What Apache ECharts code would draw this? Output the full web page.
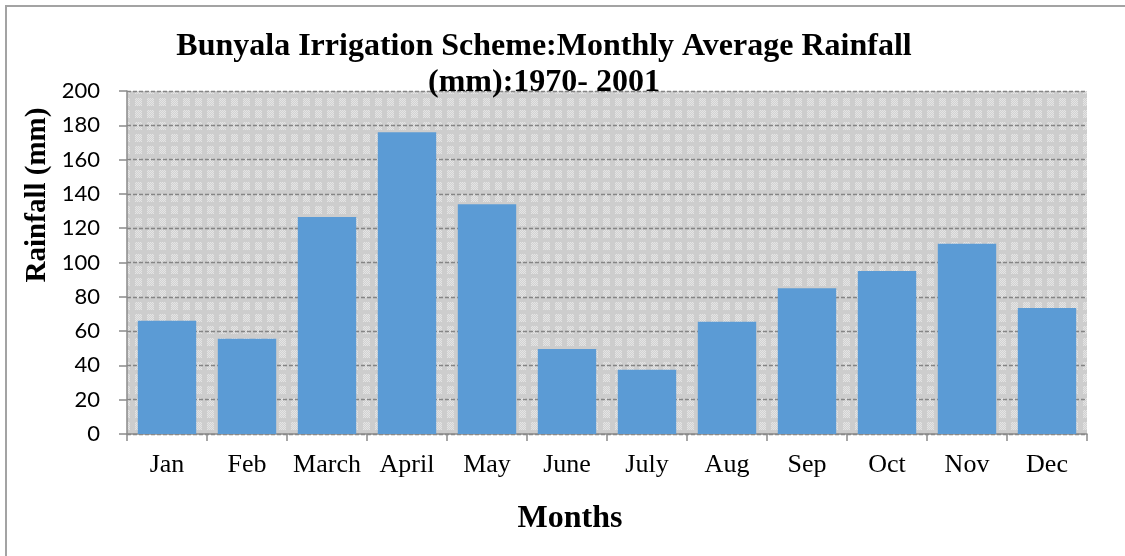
<!DOCTYPE html>
<html>
<head>
<meta charset="utf-8">
<script src="https://cdn.jsdelivr.net/npm/echarts@6/dist/echarts.min.js"></script>
<style>
html,body{margin:0;padding:0;background:#fff;}
#chart{width:1125px;height:556px;}
</style>
</head>
<body>
<div id="chart"></div>
<script>
var months = ['Jan','Feb','March','April','May','June','July','Aug','Sep','Oct','Nov','Dec'];
var rainfall = [66, 55.5, 126.5, 176, 134, 49.5, 37.5, 65.5, 85, 95, 111, 73.5];
var yTicks = {min: 0, max: 200, interval: 20};
var titleText = 'Bunyala Irrigation Scheme:Monthly Average Rainfall\n(mm):1970- 2001';
var yTitle = 'Rainfall (mm)';
var xTitle = 'Months';

function makePattern() {
  var c = document.createElement('canvas');
  c.width = 12; c.height = 12;
  var ctx = c.getContext('2d');
  ctx.fillStyle = '#cdcdcd';
  ctx.fillRect(0, 0, 12, 12);
  for (var y = 2; y < 10; y++) {
    for (var x = 3; x < 10; x++) {
      ctx.fillStyle = ((x + y) % 2 === 0) ? '#e4e4e4' : '#d2d2d2';
      ctx.fillRect(x, y, 1, 1);
    }
  }
  return c;
}

var chart = echarts.init(document.getElementById('chart'), null, {renderer: 'canvas'});
var option = {
  backgroundColor: '#ffffff',
  animation: false,
  title: {
    text: titleText,
    left: 539,
    top: 24,
    textAlign: 'center',
    textStyle: {
      fontFamily: 'Liberation Serif',
      fontWeight: 'bold',
      fontSize: 32,
      lineHeight: 36,
      color: '#000'
    }
  },
  graphic: [
    {
      type: 'rect', z: -10, silent: true,
      shape: {x: 6, y: 6, width: 1200, height: 700},
      style: {fill: 'none', stroke: '#a3a3a3', lineWidth: 2}
    },
    {
      type: 'text', x: 38, y: 195, rotation: Math.PI / 2,
      style: {
        text: yTitle, fontFamily: 'Liberation Serif', fontWeight: 'bold',
        fontSize: 29, fill: '#000', align: 'center', verticalAlign: 'middle'
      }
    },
    {
      type: 'text', x: 570, y: 519,
      style: {
        text: xTitle, fontFamily: 'Liberation Serif', fontWeight: 'bold',
        fontSize: 32, fill: '#000', align: 'center', verticalAlign: 'middle'
      }
    }
  ],
  grid: {
    left: 127, right: 38, top: 91, bottom: 122,
    show: true,
    borderWidth: 0,
    backgroundColor: {image: makePattern(), repeat: 'repeat'}
  },
  xAxis: {
    type: 'category',
    data: months,
    axisLine: {show: true, lineStyle: {color: '#8a8a8a', width: 1.5}},
    axisTick: {show: true, length: 7, lineStyle: {color: '#8a8a8a', width: 1.5}},
    axisLabel: {
      interval: 0,
      margin: 18, color: '#000',
      fontFamily: 'Liberation Serif', fontSize: 26
    },
    splitLine: {show: false}
  },
  yAxis: {
    type: 'value',
    min: yTicks.min, max: yTicks.max, interval: yTicks.interval,
    axisLine: {show: true, lineStyle: {color: '#8a8a8a', width: 1.5}},
    axisTick: {show: true, length: 8, lineStyle: {color: '#8a8a8a', width: 1.5}},
    axisLabel: {
      margin: 27, color: '#000',
      fontFamily: 'Lato', fontSize: 22
    },
    splitLine: {show: true, lineStyle: {color: '#858585', width: 1.3, type: [4, 2]}}
  },
  series: [{
    type: 'bar',
    data: rainfall,
    barCategoryGap: '27%',
    itemStyle: {color: '#5b9bd5'}
  }]
};
chart.setOption(option);
</script>
</body>
</html>
